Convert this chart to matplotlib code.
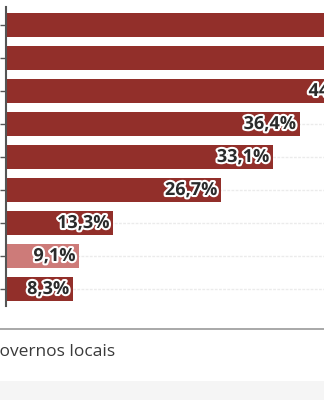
import matplotlib
matplotlib.use("Agg")
import matplotlib.pyplot as plt
import matplotlib.patheffects as pe
import numpy as np

# values in %, top to bottom (first two bars run past the crop)
values = [60.0, 52.0, 44.4, 36.4, 33.1, 26.7, 13.3, 9.1, 8.3]
labels = ["60,0%", "52,0%", "44,4%", "36,4%", "33,1%", "26,7%", "13,3%", "9,1%", "8,3%"]
highlight = [False, False, False, False, False, False, False, True, False]
footer = "Governos locais"

dark = "#922f2a"
light = "#cd7b79"

W, H = 324, 400
fig = plt.figure(figsize=(W / 100, H / 100), dpi=100)

# axes placed in pixel terms
x0, x1 = 6, 324
ytop, ybot = 7, 306
ax = fig.add_axes([x0 / W, 1 - ybot / H, (x1 - x0) / W, (ybot - ytop) / H])

px_per_unit = 8.07
ax.set_xlim(0, (x1 - x0) / px_per_unit)
pitch = 33
ax.set_ylim(8 + (ybot - 289) / pitch, -(25 - ytop) / pitch)

y = np.arange(len(values))
for yi in y:
    ax.axhline(yi, color="#ebebeb", lw=1, ls=(0, (2, 1)), zorder=0)

colors = [light if h else dark for h in highlight]
ax.barh(y, values, height=24 / pitch, color=colors, zorder=2)

off = 4 / px_per_unit
for yi, v, lab in zip(y, values, labels):
    t = ax.text(v - off, yi, lab, ha="right", va="center", fontsize=13,
                fontweight="bold", family="Open Sans", color="#2b2b2b", zorder=3,
                clip_on=True)
    t.set_path_effects([pe.withStroke(linewidth=3, foreground="white")])

for s in ["top", "right", "bottom"]:
    ax.spines[s].set_visible(False)
ax.spines["left"].set_color("#555555")
ax.spines["left"].set_linewidth(1.5)
ax.set_xticks([])
ax.set_yticks(y)
ax.set_yticklabels([])
ax.tick_params(axis="y", length=4.5, width=1, color="#555555")

# bottom rule, footer text and grey band
fig.add_artist(plt.Line2D([0, 1], [1 - 329 / H, 1 - 329 / H], color="#999999", lw=1.2))
fig.text(-13 / W, 1 - 352 / H, footer, ha="left", va="center", fontsize=12.5,
         family="Open Sans", color="#3a3a3a")
fig.add_artist(plt.Rectangle((0, 0), 1, 19 / H, color="#f5f5f5", lw=0))

fig.savefig("out.png", dpi=100)
